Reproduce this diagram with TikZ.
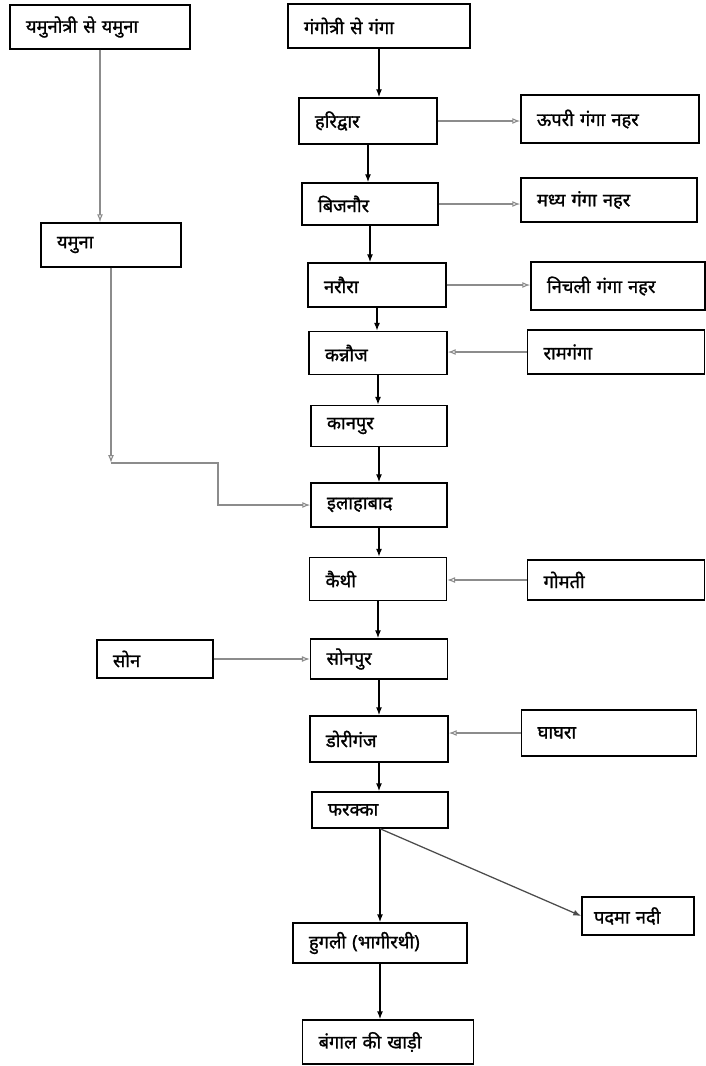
\documentclass[tikz,border=0pt]{standalone}
\usepackage{fontspec}
\newfontfamily\deva[Script=Devanagari,FakeBold=1.2]{Noto Sans}
\usetikzlibrary{positioning,arrows.meta}

\begin{document}
\begin{tikzpicture}[
          x=0.025cm, y=-0.025cm,
          box/.style={draw, line width=1pt, minimum height=1.1cm, inner xsep=0.4cm, align=left, font=\deva\fontsize{13}{15}\selectfont},
          arr/.style={-{Latex[length=2mm]}, line width=1pt},
          side/.style={-{Latex[open,length=2mm]}, draw=black!45, line width=0.8pt}
      ]
        \useasboundingbox (0,0) rectangle (705,1066);
        % left branch
        \node[box, text width=3.7cm] (yamsrc) at (100,27) {यमुनोत्री से यमुना};
        \node[box, text width=2.7cm] (yamuna) at (111,245) {यमुना};
        \node[box, text width=2.1cm, minimum height=0.95cm] (son) at (155,659) {सोन};
        % main stream
        \node[box, text width=3.75cm] (gangsrc) at (379,26) {गंगोत्री से गंगा};
        \node[box, text width=2.65cm, minimum height=1.15cm] (hari) at (368,121) {हरिद्वार};
        \node[box, text width=2.6cm, minimum height=1.05cm] (bij) at (370,204) {बिजनौर};
        \node[box, text width=2.65cm] (nar) at (377,285) {नरौरा};
        \node[box, text width=2.65cm, minimum height=1.07cm] (kan) at (378,353) {कन्नौज};
        \node[box, text width=2.6cm, minimum height=1.02cm] (kanp) at (379,426) {कानपुर};
        \node[box, text width=2.6cm] (allah) at (379,505) {इलाहाबाद};
        \node[box, text width=2.62cm, minimum height=1.07cm] (kaithi) at (378,579) {कैथी};
        \node[box, text width=2.62cm, minimum height=1.0cm] (sonpur) at (379,659) {सोनपुर};
        \node[box, text width=2.65cm, minimum height=1.15cm] (dori) at (379,739) {डोरीगंज};
        \node[box, text width=2.6cm, minimum height=0.9cm] (far) at (380,810) {फरक्का};
        \node[box, text width=3.55cm, minimum height=1.0cm] (hug) at (380,943) {हुगली (भागीरथी)};
        \node[box, text width=3.47cm] (bay) at (388,1042) {बंगाल की खाड़ी};
        % right side
        \node[box, text width=3.65cm, minimum height=1.2cm] (upari) at (610,119) {ऊपरी गंगा नहर};
        \node[box, text width=3.6cm] (madhya) at (609,200) {मध्य गंगा नहर};
        \node[box, text width=3.55cm, minimum height=1.2cm] (nichli) at (618,286) {निचली गंगा नहर};
        \node[box, text width=3.62cm] (ram) at (616,352) {रामगंगा};
        \node[box, text width=3.62cm, minimum height=1.0cm] (gomti) at (616,580) {गोमती};
        \node[box, text width=3.57cm, minimum height=1.15cm] (ghag) at (609,733) {घाघरा};
        \node[box, text width=2.2cm, minimum height=0.95cm, inner xsep=0.3cm] (padma) at (638,916) {पदमा नदी};
        \coordinate (bend) at (111,463);
        \coordinate (step) at (218,463);
        % main flow
        \draw[arr] (gangsrc) -- (gangsrc |- hari.north);
        \draw[arr] (hari) -- (hari |- bij.north);
        \draw[arr] (bij) -- (bij |- nar.north);
        \draw[arr] (nar) -- (nar |- kan.north);
        \draw[arr] (kan) -- (kan |- kanp.north);
        \draw[arr] (kanp) -- (kanp |- allah.north);
        \draw[arr] (allah) -- (allah |- kaithi.north);
        \draw[arr] (kaithi) -- (kaithi |- sonpur.north);
        \draw[arr] (sonpur) -- (sonpur |- dori.north);
        \draw[arr] (dori) -- (dori |- far.north);
        \draw[arr] (far) -- (far |- hug.north);
        \draw[arr] (hug) -- (hug |- bay.north);
        \draw[-{Latex[length=2mm]}, line width=0.9pt, black!70] (far.south) -- (padma.west);
        % canals and tributaries
        \draw[side] (hari) -- (hari -| upari.west);
        \draw[side] (bij) -- (bij -| madhya.west);
        \draw[side] (nar) -- (nar -| nichli.west);
        \draw[side] (ram) -- (ram -| kan.east);
        \draw[side] (gomti) -- (gomti -| kaithi.east);
        \draw[side] (ghag) -- (ghag -| dori.east);
        \draw[side] (son) -- (son -| sonpur.west);
        \draw[side] (yamsrc) -- (yamsrc |- yamuna.north);
        \draw[side] (yamuna) -- (bend);
        \draw[side] (bend) -- (step) |- (allah.west);
      \end{tikzpicture}
\end{document}
